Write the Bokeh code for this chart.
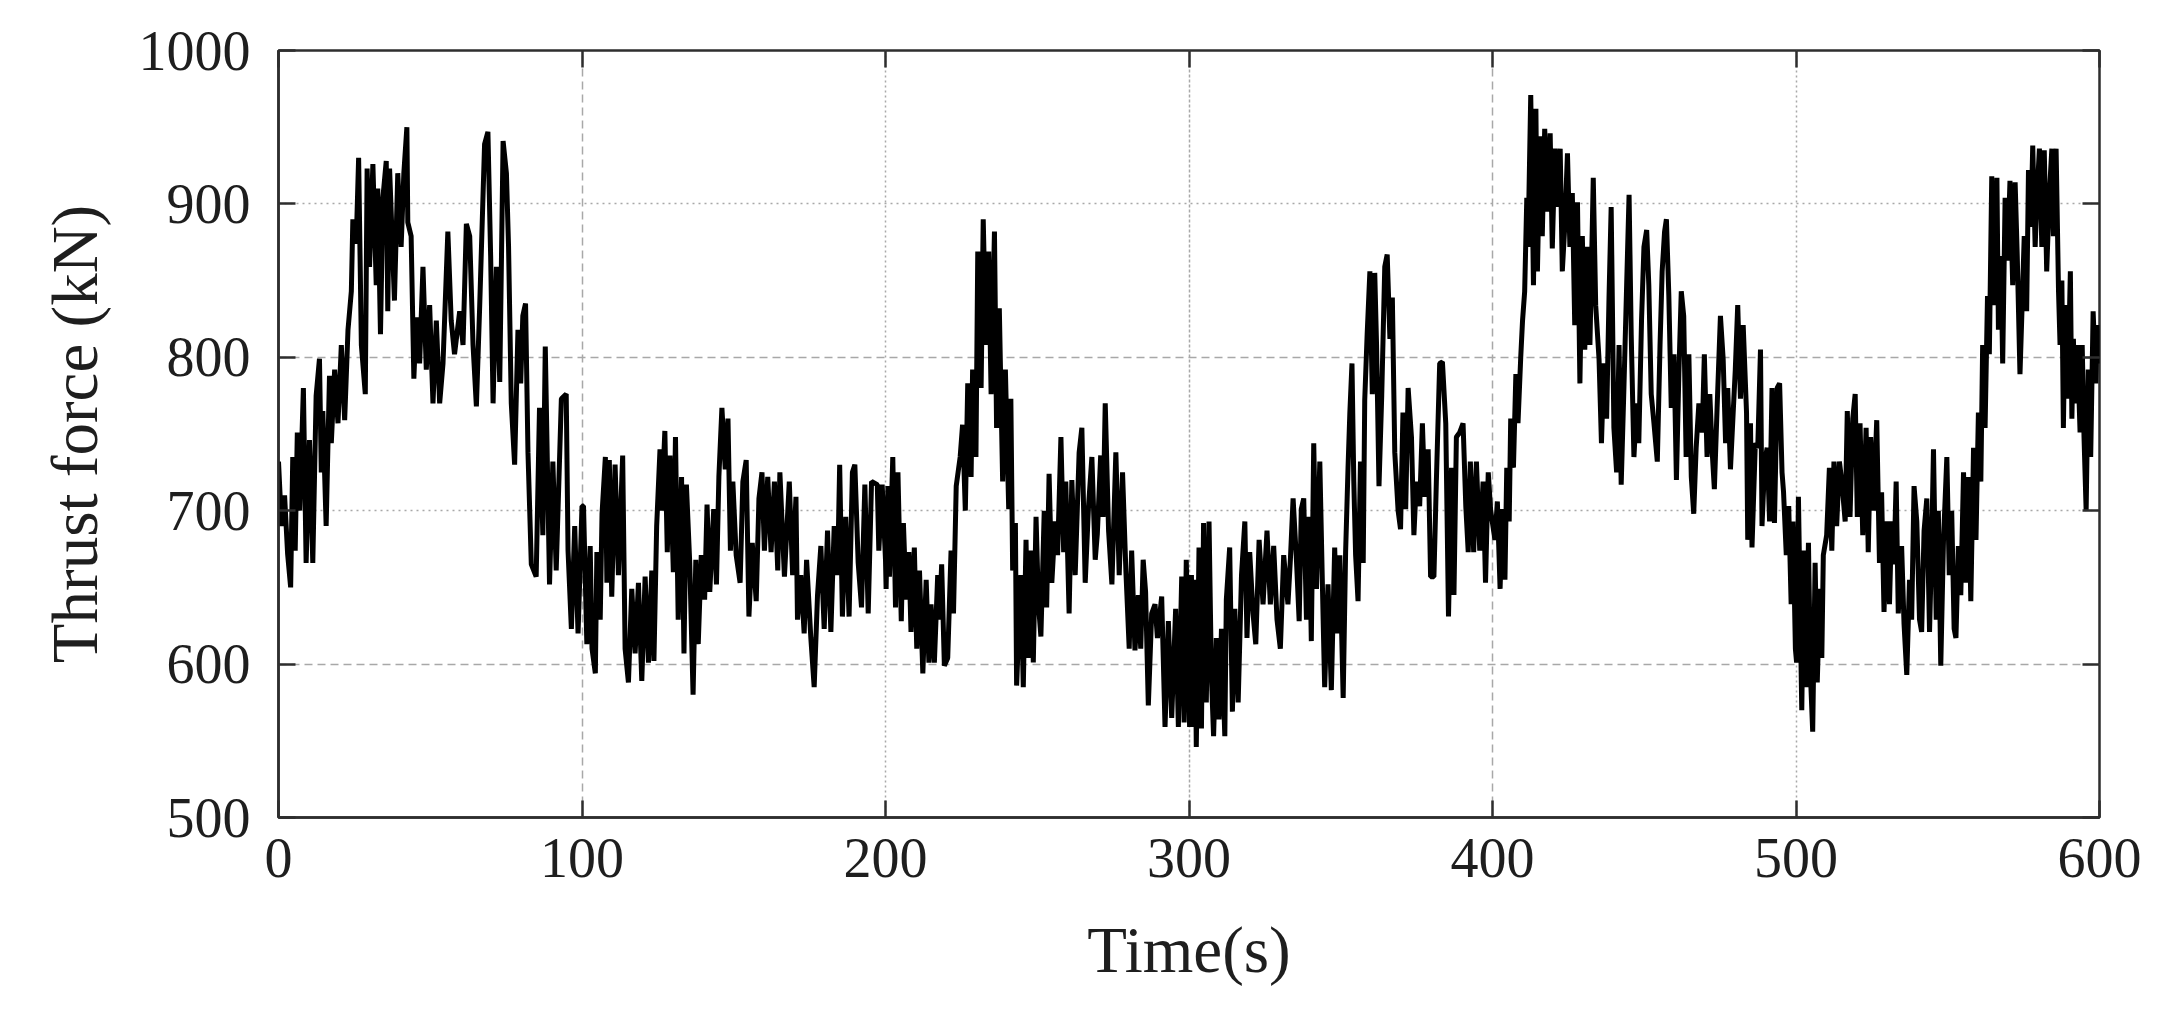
from bokeh.plotting import figure
from bokeh.models import Range1d, FixedTicker, Grid, LinearAxis, ColumnDataSource
from bokeh.embed import file_html
from bokeh.resources import INLINE

# ---- data (time in s, thrust force in kN) ----
t_000_100 = [0, 1, 2, 3, 4, 4.7, 5.5, 6.2, 7, 8.2, 9.1, 10.2, 11.3, 12.4, 13.5, 14.1, 14.6, 15.7, 16.8, 17.4,
             18.5, 19.6, 20.7, 21.8, 22.9, 24.0, 24.5, 25.6, 26.4, 27.3, 28.6, 29.2, 30.0, 31.1, 32.2, 32.7,
             33.6, 34.4, 35.5, 36.0, 36.6, 38.2, 39.3, 40.4, 41.3, 42.3, 42.6, 43.7, 44.6, 45.4, 46.5, 47.6,
             48.7, 49.8, 50.9, 52.0, 53.1, 54.2, 55.8, 56.9, 58.0, 59.7, 60.8, 61.9, 63.0, 64.1, 65.2, 66.3,
             67.9, 69.0, 69.9, 70.7, 71.8, 72.9, 74.0, 75.1, 75.8, 76.7, 77.8, 78.9, 79.8, 80.5, 81.4, 82.2,
             83.3, 84.9, 86.0, 87.1, 87.9, 89.3, 90.4, 91.5, 93.2, 94.8, 95.4, 96.5, 97.6, 98.7, 100]
f_000_100 = [732, 690, 710, 672, 650, 735, 674, 751, 700, 780, 666, 746, 666, 775, 799, 725, 765, 690, 788, 744,
             792, 757, 808, 759, 818, 843, 890, 874, 930, 808, 776, 923, 859, 926, 847, 910, 815, 904, 928, 830,
             923, 837, 920, 872, 920, 950, 888, 879, 786, 826, 796, 859, 792, 834, 770, 824, 770, 796, 882, 824,
             802, 830, 808, 887, 879, 808, 768, 834, 939, 947, 866, 770, 859, 784, 941, 920, 872, 770, 730, 818,
             783, 827, 835, 738, 665, 657, 767, 684, 807, 652, 732, 661, 773, 776, 674, 623, 690, 620, 703]

t_100_200 = [100.5, 101.6, 102.7, 103.3, 104.4, 104.9, 106.0, 106.6, 107.7, 108.2, 109.0, 109.8, 110.9, 112.0,
             113.4, 114.2, 115.3, 116.4, 117.5, 118.6, 119.7, 120.8, 121.9, 123.0, 123.7, 124.6, 125.7, 126.2,
             127.3, 128.1, 129.0, 130.1, 130.8, 131.7, 132.8, 133.6, 134.4, 135.5, 136.6, 137.5, 138.3, 139.3,
             140.4, 141.2, 142.1, 143.4, 144.3, 145.1, 146.1, 147.2, 148.1, 148.9, 149.7, 150.8, 152.1, 153.0,
             154.1, 155.0, 156.1, 157.4, 158.3, 159.3, 160.1, 161.2, 162.3, 163.4, 164.5, 165.2, 166.7, 168.3,
             169.4, 170.5, 171.0, 172.1, 173.2, 174.0, 175.4, 176.5, 177.6, 178.7, 179.8, 180.9, 182.0, 183.1,
             184.2, 184.9, 185.8, 186.9, 188.0, 189.1, 189.9, 191.0, 192.1, 193.2, 194.3, 195.4, 197.3, 197.8,
             198.9, 200.0]
f_100_200 = [703, 613, 677, 610, 594, 673, 629, 698, 735, 653, 733, 644, 730, 658, 736, 610, 588, 649, 607, 653,
             589, 657, 601, 661, 602, 690, 740, 700, 752, 673, 736, 660, 748, 629, 722, 607, 717, 666, 580, 668,
             613, 671, 642, 704, 647, 701, 652, 722, 767, 727, 760, 674, 719, 671, 653, 719, 733, 631, 679, 641,
             708, 725, 674, 722, 673, 719, 661, 725, 657, 719, 658, 709, 629, 658, 620, 668, 617, 585, 645, 677,
             623, 687, 621, 690, 658, 730, 631, 696, 631, 725, 730, 666, 637, 717, 633, 719, 717, 674, 717, 668]

t_200_300 = [200.2, 200.8, 201.3, 202.4, 203.3, 204.1, 205.2, 205.9, 206.8, 207.7, 208.4, 209.5, 210.3, 211.2,
             212.3, 213.4, 214.3, 215.0, 216.1, 217.2, 217.8, 218.5, 219.4, 220.5, 221.6, 222.4, 223.3, 224.6,
             225.4, 226.3, 227.1, 228.2, 228.7, 229.8, 230.4, 231.5, 232.2, 233.1, 234.0, 234.8, 235.9, 236.6,
             237.5, 238.6, 239.5, 240.6, 241.3, 241.9, 242.8, 243.2, 244.6, 245.4, 246.3, 247.0, 247.9, 248.7,
             249.6, 250.4, 251.2, 252.3, 253.1, 253.9, 254.8, 255.9, 256.7, 257.8, 258.7, 259.4, 260.5, 261.4,
             262.5, 263.8, 264.7, 265.8, 266.9, 268.0, 269.1, 269.8, 270.9, 271.7, 272.4, 273.5, 274.6, 275.9,
             277.0, 278.1, 279.2, 280.3, 281.1, 282.2, 283.3, 284.1, 284.9, 285.7, 286.6, 287.7, 288.8, 289.6,
             291.0, 292.1, 293.2, 294.3, 295.6, 296.5, 297.6, 298.4, 299.1, 300.2]
f_200_300 = [649, 716, 657, 735, 637, 725, 628, 692, 642, 673, 621, 676, 610, 661, 594, 655, 601, 639, 601, 658,
             629, 665, 599, 604, 674, 633, 716, 735, 756, 700, 783, 722, 792, 735, 869, 780, 890, 808, 869, 776,
             882, 754, 832, 719, 792, 701, 773, 661, 692, 586, 658, 585, 681, 604, 674, 601, 696, 639, 618, 700,
             637, 724, 653, 693, 671, 748, 673, 719, 633, 720, 658, 738, 754, 653, 703, 735, 668, 685, 736, 696,
             770, 687, 652, 738, 658, 725, 661, 610, 674, 609, 645, 610, 668, 647, 573, 633, 639, 617, 644, 559,
             628, 565, 636, 559, 657, 562, 668, 559]

t_300_400 = [300.8, 301.4, 301.9, 302.4, 303.3, 304.1, 304.8, 305.7, 306.6, 307.4, 308.1, 309.0, 309.9, 310.7,
             311.8, 312.3, 313.4, 314.3, 315.1, 316.2, 317.3, 318.4, 319.1, 320.0, 321.1, 322.0, 323.1, 324.4,
             325.7, 326.8, 327.9, 329.0, 330.1, 331.2, 332.6, 333.4, 334.3, 335.4, 336.3, 337.0, 337.8, 338.7,
             339.6, 340.3, 341.1, 342.0, 343.1, 344.2, 344.7, 345.8, 346.9, 348.0, 348.8, 349.7, 350.8, 351.6,
             352.4, 353.0, 353.7, 354.3, 354.9, 355.7, 356.5, 357.4, 357.9, 358.7, 359.6, 360.4, 361.2, 361.8,
             362.6, 363.5, 364.5, 365.3, 366.2, 367.0, 367.8, 368.9, 369.7, 370.5, 371.4, 372.2, 373.3, 374.1,
             374.9, 376.0, 376.9, 377.7, 378.8, 379.6, 380.7, 381.5, 382.6, 383.5, 384.6, 385.5, 386.5, 387.3,
             388.1, 389.2, 390.3, 391.2, 392.0, 392.7, 393.8, 394.7, 395.8, 396.9, 397.7, 398.6, 399.4]
f_300_400 = [658, 559, 655, 546, 676, 558, 692, 575, 693, 591, 553, 617, 564, 623, 553, 642, 676, 569, 636, 575,
             658, 693, 617, 673, 633, 613, 681, 639, 687, 639, 677, 629, 610, 671, 639, 668, 708, 668, 628, 701,
             708, 629, 696, 615, 744, 649, 732, 629, 585, 652, 583, 676, 620, 671, 578, 673, 728, 764, 796, 719,
             671, 641, 732, 666, 772, 815, 856, 776, 855, 808, 716, 775, 859, 867, 812, 839, 738, 700, 688, 764,
             701, 780, 748, 684, 719, 703, 757, 709, 740, 657, 657, 719, 796, 797, 757, 631, 728, 645, 748, 751,
             757, 703, 673, 732, 673, 732, 674, 719, 653, 725, 700]

t_400_500 = [400.8, 401.6, 402.5, 403.3, 404.1, 404.7, 405.5, 406.0, 406.9, 407.7, 408.4, 409.3, 409.9, 410.6,
             411.3, 411.7, 412.6, 413.5, 414.3, 414.8, 415.7, 416.4, 417.2, 418.1, 419.0, 419.7, 420.6, 421.4,
             422.3, 423.0, 423.8, 424.7, 425.5, 426.3, 427.1, 428.0, 428.8, 429.6, 430.4, 431.3, 432.1, 433.2,
             434.0, 435.1, 435.9, 436.7, 437.6, 438.4, 439.1, 440.0, 440.9, 441.7, 442.4, 443.3, 444.2, 445.0,
             445.7, 446.6, 447.5, 448.2, 449.1, 449.9, 450.8, 451.5, 452.3, 453.2, 454.3, 455.2, 455.9, 456.7,
             457.3, 458.1, 458.9, 459.8, 460.6, 461.4, 462.2, 463.0, 463.8, 464.7, 465.5, 466.3, 467.1, 468.0,
             469.1, 469.8, 470.7, 471.6, 472.4, 473.1, 474.0, 475.1, 476.0, 476.8, 477.5, 478.4, 479.3, 480.0,
             480.8, 481.7, 482.6, 483.7, 484.1, 485.0, 485.5, 486.6, 487.4, 488.3, 488.8, 489.7, 490.5, 491.3,
             492.1, 492.9, 493.8, 494.6, 495.4, 495.9, 496.8, 497.6, 498.4, 499.0, 499.8]
f_400_500 = [681, 706, 649, 701, 655, 728, 693, 760, 728, 789, 757, 800, 824, 843, 904, 872, 971, 847, 962, 856,
             944, 879, 949, 895, 946, 871, 936, 898, 936, 856, 885, 933, 872, 907, 821, 901, 783, 879, 805, 872,
             808, 917, 834, 799, 744, 796, 760, 840, 898, 754, 725, 808, 717, 780, 847, 906, 815, 735, 770, 744,
             824, 872, 883, 847, 776, 757, 732, 808, 856, 882, 890, 840, 767, 802, 720, 789, 843, 827, 735, 802,
             722, 698, 741, 770, 751, 802, 735, 776, 738, 714, 767, 827, 799, 744, 780, 727, 764, 792, 834, 773,
             821, 764, 681, 757, 676, 744, 741, 805, 690, 732, 741, 693, 780, 692, 780, 783, 725, 712, 671, 703,
             639, 693, 610]

t_500_600 = [500.2, 500.8, 501.9, 502.6, 503.3, 504.1, 504.8, 505.5, 506.3, 507.0, 507.9, 508.5, 509.0, 510.1,
             511.0, 511.8, 512.5, 513.4, 514.3, 515.1, 516.2, 516.9, 517.8, 518.7, 519.5, 520.2, 521.1, 522.0,
             523.1, 523.8, 524.6, 525.5, 526.6, 527.5, 528.2, 529.0, 529.9, 530.8, 531.5, 532.3, 533.0, 533.7,
             534.8, 535.6, 536.5, 537.4, 538.1, 538.9, 539.8, 540.7, 541.4, 542.2, 543.1, 544.0, 544.7, 545.3,
             546.2, 546.9, 547.7, 548.6, 549.7, 550.5, 551.3, 552.1, 552.7, 553.5, 554.3, 555.2, 556.0, 556.8,
             557.6, 558.5, 559.3, 560.1, 560.9, 561.5, 562.3, 563.1, 563.7, 564.5, 565.3, 566.2, 566.7, 567.5,
             568.1, 568.9, 569.7, 570.5, 571.4, 572.2, 572.9, 573.8, 574.4, 575.2, 576.0, 576.6, 577.4, 578.0,
             578.8, 579.3, 580.2, 581.0, 581.8, 582.6, 583.5, 584.3, 584.8, 585.7, 586.5, 587.0, 587.6, 588.1,
             588.7, 589.5, 590.4, 590.9, 591.4, 592.0, 592.7, 593.6, 594.3, 594.9, 595.6, 596.3, 597.1, 597.9,
             598.8, 599.2, 600.0]
f_500_600 = [601, 709, 570, 674, 585, 679, 591, 556, 666, 588, 649, 604, 671, 684, 728, 674, 732, 690, 732, 719,
             693, 765, 696, 760, 776, 696, 757, 684, 754, 673, 748, 700, 759, 666, 712, 634, 693, 639, 693, 665,
             719, 633, 677, 626, 593, 655, 629, 716, 693, 629, 621, 687, 708, 621, 677, 740, 629, 700, 599, 681,
             735, 658, 700, 623, 617, 677, 645, 725, 653, 722, 641, 741, 681, 764, 719, 808, 754, 840, 802, 918,
             834, 917, 818, 866, 796, 904, 863, 915, 847, 914, 866, 789, 827, 879, 830, 922, 885, 938, 872, 901,
             936, 872, 935, 856, 907, 936, 879, 936, 843, 808, 850, 754, 834, 773, 856, 760, 812, 770, 808, 751,
             808, 748, 700, 792, 735, 830, 783, 821, 796]

x_ticks = [0, 100, 200, 300, 400, 500, 600]
y_ticks = [500, 600, 700, 800, 900, 1000]
x_label = "Time(s)"
y_label = "Thrust force (kN)"

time_s = t_000_100 + t_100_200 + t_200_300 + t_300_400 + t_400_500 + t_500_600
thrust_kN = f_000_100 + f_100_200 + f_200_300 + f_300_400 + f_400_500 + f_500_600

source = ColumnDataSource(data=dict(t=time_s, f=thrust_kN))

FONT = "Liberation Serif"
TXT = "#1e1e1e"
FRAME = "#2e2e2e"
GRID = "#a8a8a8"

p = figure(frame_width=1821, frame_height=767,
           min_border_left=278, min_border_right=51, min_border_top=50, min_border_bottom=183,
           x_range=Range1d(0, 600), y_range=Range1d(500, 1000),
           output_backend="svg", toolbar_location=None,
           background_fill_color="white", border_fill_color="white")

p.outline_line_color = FRAME
p.outline_line_width = 2.5
p.xgrid.visible = False
p.ygrid.visible = False

# grids with alternating line styles
grid_specs = [
    (1, [700, 900], "2 4"),
    (1, [600, 800], "8 5"),
    (0, [100, 400], "8 5"),
    (0, [200, 500], "2 3"),
    (0, [300], "3 2"),
]
for dim, ticks, dash in grid_specs:
    p.add_layout(Grid(dimension=dim, ticker=FixedTicker(ticks=ticks),
                      grid_line_color=GRID, grid_line_width=1.5, grid_line_dash=dash))

p.line("t", "f", source=source, line_color="black", line_width=5)

xa = p.xaxis[0]
ya = p.yaxis[0]
xa.ticker = FixedTicker(ticks=x_ticks)
ya.ticker = FixedTicker(ticks=y_ticks)
for ax in (xa, ya):
    ax.major_tick_in = 17
    ax.major_tick_out = 0
    ax.major_tick_line_color = FRAME
    ax.major_tick_line_width = 2.5
    ax.minor_tick_line_color = None
    ax.axis_line_color = FRAME
    ax.axis_line_width = 2.5
    ax.major_label_text_font = FONT
    ax.major_label_text_font_size = "56px"
    ax.major_label_text_color = TXT
    ax.axis_label_text_font = FONT
    ax.axis_label_text_font_size = "65px"
    ax.axis_label_text_font_style = "normal"
    ax.axis_label_text_color = TXT
xa.axis_label = x_label
ya.axis_label = y_label
xa.major_label_standoff = 21
ya.major_label_standoff = 28
xa.axis_label_standoff = 34
ya.axis_label_standoff = 25

# mirrored ticks on top and right (no labels drawn)
top = LinearAxis(ticker=FixedTicker(ticks=x_ticks))
right = LinearAxis(ticker=FixedTicker(ticks=y_ticks))
for ax in (top, right):
    ax.major_tick_in = 17
    ax.major_tick_out = 0
    ax.major_tick_line_color = FRAME
    ax.major_tick_line_width = 2.5
    ax.minor_tick_line_color = None
    ax.axis_line_color = None
    ax.major_label_text_color = None
    ax.major_label_standoff = 0
p.add_layout(top, "above")
p.add_layout(right, "right")

open("out.html", "w").write(file_html(p, INLINE))
